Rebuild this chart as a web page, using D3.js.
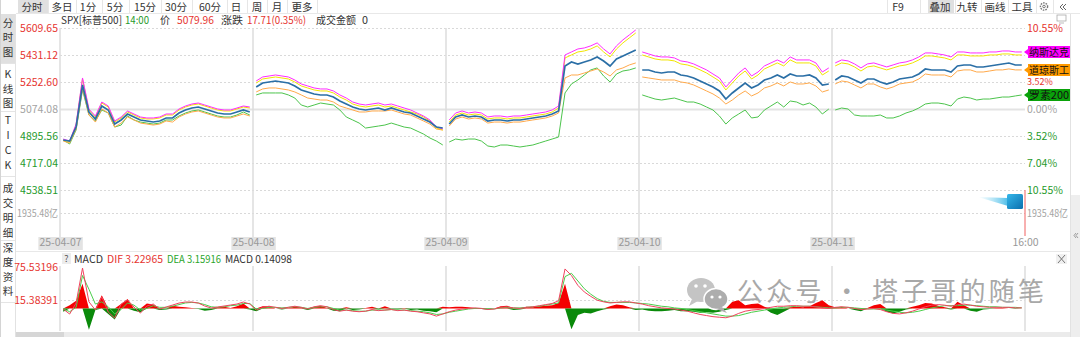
<!DOCTYPE html>
<html>
<head>
<meta charset="utf-8">
<title>SPX 分时叠加</title>
<script src="https://cdn.jsdelivr.net/npm/d3@7/dist/d3.min.js"></script>
<style>
    body { margin: 0; background: #fff; overflow: hidden; }
    svg text { font-family: "Noto Sans CJK SC", "Noto Sans", sans-serif; }
</style>
</head>
<body>
<div id="chart"></div>
<script>

// ---------------- data ----------------
var days = ["25-04-07", "25-04-08", "25-04-09", "25-04-10", "25-04-11"];
var closeTime = "16:00";
var perDay = 30;
var prevClose = 5074.08;

var priceTicks = [5609.65, 5431.12, 5252.60, 5074.08, 4895.56, 4717.04, 4538.51];
var pctTicks = [10.55, 7.04, 3.52, 0, -3.52, -7.04, -10.55];
var volTick = 1935.48;
var macdTicks = [75.53196, 15.38391];

// SPX 标普500 (price)
var spx = [
    4869.1,4862.5,4955.1,5232.8,5054.2,5008.0,5093.9,5067.5,4974.9,5001.4,5041.0,5021.2,5001.4,4994.7,4988.1,4994.7,5014.6,5014.6,5047.6,5067.5,5080.7,5087.3,5074.1,5060.9,5047.6,5041.0,5041.0,5054.2,5067.5,5054.2,
    5219.5,5246.0,5252.6,5259.2,5252.6,5246.0,5226.2,5199.7,5186.5,5173.3,5166.7,5166.7,5153.4,5127.0,5107.1,5087.3,5074.1,5067.5,5074.1,5080.7,5067.5,5080.7,5067.5,5054.2,5047.6,5027.8,5008.0,4988.1,4955.1,4948.5,
    4974.9,5021.2,5034.4,5021.2,5027.8,5021.2,4994.7,5001.4,5001.4,4994.7,5001.4,5001.4,5008.0,5014.6,5021.2,5027.8,5041.0,5060.9,5358.4,5384.8,5371.6,5384.8,5398.1,5417.9,5391.5,5358.4,5404.7,5424.5,5444.4,5464.2,
    5331.9,5331.9,5318.7,5312.1,5318.7,5318.7,5298.9,5292.3,5279.1,5259.2,5239.4,5219.5,5193.1,5140.2,5179.9,5213.0,5246.0,5213.0,5232.8,5265.8,5279.1,5298.9,5279.1,5305.5,5292.3,5292.3,5298.9,5279.1,5232.8,5239.4,
    5265.8,5292.3,5285.7,5265.8,5246.0,5272.4,5272.4,5252.6,5239.4,5252.6,5272.4,5279.1,5285.7,5305.5,5338.6,5331.9,5331.9,5331.9,5318.7,5358.4,5365.0,5365.0,5351.8,5351.8,5358.4,5365.0,5371.6,5378.2,5365.0,5365.0
];

// 叠加品种 (% vs 前收)
var nasdaqPct = [
    -3.91,-4.17,-1.96,4.04,0,-0.91,0.91,0.39,-1.56,-1.04,-0.26,-0.65,-1.04,-1.17,-1.17,-1.04,-0.65,-0.65,0,0.39,0.65,0.78,0.52,0.26,0,-0.13,-0.13,0.13,0.39,0.26,
    3.65,4.17,4.30,4.43,4.30,4.17,3.78,3.26,3.00,2.74,2.61,2.61,2.35,1.83,1.43,0.91,0.65,0.52,0.65,0.78,0.52,0.65,0.39,0.13,-0.13,-0.52,-0.91,-1.43,-2.35,-2.61,
    -1.43,-0.52,-0.26,-0.52,-0.39,-0.52,-1.04,-0.91,-0.91,-1.04,-0.91,-0.91,-0.78,-0.65,-0.52,-0.39,-0.13,0.39,7.04,7.43,7.82,7.95,8.22,8.61,7.82,7.17,8.22,9.00,9.65,10.30,
    7.43,7.17,6.91,6.78,6.78,6.65,6.26,6.13,5.87,5.48,5.09,4.56,4.04,2.87,3.78,4.69,5.35,4.30,4.82,5.61,6.00,6.39,6.00,6.78,6.39,6.39,6.39,6.00,4.82,5.35,
    6.00,6.39,6.26,5.87,5.35,5.87,6.00,5.74,5.48,5.74,6.00,6.13,6.39,6.78,7.30,7.30,7.17,7.04,6.78,7.43,7.43,7.30,7.30,7.30,7.43,7.43,7.56,7.56,7.43,7.43
];
var yellowPct = [
    -4.04,-4.30,-2.09,3.91,-0.13,-1.04,0.78,0.26,-1.70,-1.17,-0.39,-0.78,-1.17,-1.30,-1.30,-1.17,-0.78,-0.78,-0.13,0.26,0.52,0.65,0.39,0.13,-0.13,-0.26,-0.26,0,0.26,0.13,
    3.39,3.91,4.04,4.17,4.04,3.91,3.52,3.00,2.74,2.48,2.35,2.35,2.09,1.56,1.17,0.65,0.39,0.26,0.39,0.52,0.26,0.39,0.13,-0.13,-0.39,-0.65,-1.04,-1.56,-2.48,-2.74,
    -1.70,-0.78,-0.52,-0.78,-0.65,-0.78,-1.30,-1.17,-1.17,-1.30,-1.17,-1.17,-1.04,-0.91,-0.78,-0.65,-0.39,0.13,6.65,7.04,7.43,7.56,7.82,8.22,7.43,6.78,7.82,8.61,9.26,9.91,
    7.04,6.78,6.52,6.39,6.39,6.26,5.87,5.74,5.48,5.09,4.69,4.17,3.65,2.48,3.39,4.30,4.95,3.91,4.43,5.22,5.61,6.00,5.61,6.39,6.00,6.00,6.00,5.61,4.43,4.95,
    5.61,6.00,5.87,5.48,4.95,5.48,5.61,5.35,5.09,5.35,5.61,5.74,6.00,6.39,6.91,6.91,6.78,6.65,6.39,7.04,7.04,6.91,6.91,6.91,7.04,7.04,7.17,7.17,7.04,7.04
];
var dowPct = [
    -4.17,-4.43,-2.61,2.74,-0.78,-1.70,0,-0.52,-2.35,-1.83,-1.04,-1.43,-1.83,-1.96,-2.09,-1.96,-1.56,-1.70,-1.04,-0.65,-0.39,-0.26,-0.52,-0.78,-1.04,-1.17,-1.17,-0.91,-0.65,-0.91,
    2.22,2.61,2.74,2.74,2.61,2.48,2.22,1.83,1.43,1.30,1.17,1.17,0.91,0.39,0.13,-0.13,-0.39,-0.39,-0.26,-0.26,-0.26,-0.13,-0.39,-0.65,-0.78,-1.17,-1.56,-1.96,-2.61,-2.74,
    -2.22,-1.30,-1.04,-1.30,-1.17,-1.30,-1.83,-1.70,-1.70,-1.83,-1.70,-1.70,-1.56,-1.43,-1.30,-1.17,-0.91,-0.52,4.04,4.43,4.43,4.69,4.95,5.22,4.82,4.30,5.09,5.35,5.74,6.00,
    4.17,4.04,3.91,3.78,3.78,3.78,3.52,3.39,3.13,2.74,2.35,1.96,1.43,0.65,1.17,1.83,2.35,1.70,2.09,2.74,3.00,3.39,3.00,3.52,3.26,3.26,3.39,3.00,2.22,2.48,
    3.26,3.65,3.52,3.13,2.74,3.26,3.26,2.87,2.61,2.87,3.26,3.39,3.52,3.91,4.56,4.43,4.43,4.43,4.17,4.95,5.09,5.09,4.82,4.82,4.95,5.09,5.09,5.22,5.09,5.09
];
var russellPct = [
    -4.04,-4.56,-2.74,2.48,-0.78,-1.56,-0.13,-0.52,-2.35,-2.09,-0.91,-1.43,-1.70,-1.83,-1.96,-1.83,-1.43,-1.43,-0.91,-0.52,-0.26,-0.13,-0.39,-0.65,-0.91,-1.04,-1.04,-0.78,-0.39,-0.78,
    1.83,2.09,2.09,2.09,2.09,1.83,1.43,0.52,0.26,0.52,0.78,0.65,0.52,-0.13,-1.04,-1.43,-1.83,-2.48,-2.35,-2.22,-2.09,-1.83,-2.09,-2.35,-2.48,-2.87,-3.26,-3.78,-4.17,-4.69,
    -4.30,-3.91,-4.04,-3.91,-3.91,-4.17,-4.82,-4.95,-4.69,-4.69,-4.82,-4.95,-4.82,-4.69,-4.43,-4.17,-3.91,-3.65,2.09,3.26,3.78,4.43,5.09,5.35,4.30,3.52,4.56,4.95,5.09,5.35,
    1.83,1.56,1.30,1.17,1.30,1.43,1.17,0.91,0.91,0.65,0.26,-0.13,-0.91,-1.96,-1.17,-0.65,-0.13,-1.17,-1.04,-0.13,0.39,0.91,0.26,1.04,0.91,0.52,0.78,0.26,-0.65,0,
    -0.13,0.13,0,-0.78,-0.91,-0.91,-0.91,-0.78,-1.17,-1.17,-0.91,-0.52,-0.26,0.13,0.65,0.78,0.78,0.65,0.39,1.30,1.56,1.43,1.17,1.30,1.30,1.43,1.56,1.56,1.70,1.83
];

// MACD
var dif = [
    -1.1,-10.2,9.8,73.6,12,-2.9,20.8,-6.6,-17.5,8.0,15.3,2.6,-8.4,4.4,8.0,-1.1,2.6,6.2,9.8,11.7,11.7,9.8,4.4,0.7,2.6,4.4,6.2,8.0,11.7,8.0,
    -3,2,4,2,0,2,4,2,-1,3,5,3,-2,-5,-3,-5,-6,-5,-2,-4,-3,-2,-4,-3,-5,-6,-8,-10,-14,-10,
    -6,-3,-1,0,1,0,-2,-1,2,3,1,0,2,3,5,7,9,14,72,60,42,30,22,15,12,10,11,12,12,10,
    8,5,3,1,0,-1,-3,-5,-8,-11,-13,-15,-16,-17,-14,-9,-5,-3,-2,0,2,4,4,5,5,4,4,3,1,0,
    2,3,2,0,-2,-1,0,-2,-6,-9,-10,-8,-5,-1,3,6,7,6,4,7,8,6,4,3,2,2,2,2,1,1
];
var dea = [
    -0.5,-6,2,60,35,8,12,3,-10,-2,10,6,-3,0,5,2,2,4,7,10,11,10,7,3,2,3,5,6,9,9,
    -1,0,2,2,1,2,3,2,0,2,3,3,0,-3,-3,-4,-5,-5,-3,-3,-3,-2,-3,-3,-4,-5,-6,-8,-11,-10,
    -7,-5,-3,-1,0,0,-1,-1,1,2,1,1,2,3,4,6,8,10,58,64,50,36,26,18,13,11,11,11,11,10,
    9,8,6,4,3,1,0,-2,-4,-6,-8,-10,-12,-14,-14,-13,-10,-7,-5,-3,-1,1,2,3,4,4,4,3,2,1,
    1,2,2,1,0,-1,-1,-1,-3,-5,-7,-8,-7,-5,-2,1,3,5,5,5,6,6,5,4,3,3,2,2,2,1
];
var macdHist = [
    -6,6,14,45,-39,-3,24,-10,-20,8,17,-4,-7,9,7,-3,-2,5,3,2,1,-1,-4,-3,2,3,1,4,9,-2,
    -5,4,4,0,-2,1,3,2,-3,3,5,1,-4,-5,2,-3,-2,1,3,-2,4,-1,-2,1,-3,-2,-4,-5,-7,3,
    2,3,3,2,1,-1,-2,0,4,5,-3,-2,3,2,4,5,6,10,45,-38,-12,-8,-9,-5,-2,4,7,6,2,-3,
    -2,-4,-5,-5,-4,-3,-5,-5,-6,-8,-7,-8,-6,-3,12,15,6,8,9,3,-8,-12,-6,2,3,2,4,10,15,6,
    2,3,0,-3,-5,1,6,8,-6,-9,-6,-2,3,6,10,9,5,2,-2,12,6,-4,-6,-2,-1,1,1,0,-1,0
];

// 当前光标处读数
var cursorTime = "14:00", cursorPrice = 5079.96, cursorChg = 17.71, cursorChgPct = 0.35, cursorAmount = 0;
var lastDif = 3.22965, lastDea = 3.15916, lastMacd = 0.14098;

var upColor = "#e6342f", downColor = "#1f9a2c", flatColor = "#a3a3a3", textColor = "#333";
var fs = 10.5;

// ---------------- layout ----------------
var svg = d3.select("#chart").append("svg")
    .attr("width", 1080)
    .attr("height", 337);

var x = d3.scaleLinear().domain([0, days.length]).range([60, 1025]);
var yPrice = d3.scaleLinear().domain([4538.51, 5609.65]).range([190, 28]);
var yPct = d3.scaleLinear().domain([-10.55, 10.55]).range([190, 28]);
var yVol = d3.scaleLinear().domain([0, 3870.96]).range([236, 190]);
var yMacd = d3.scaleLinear().domain([15.38391, 75.53196]).range([300, 267]);

function xAt(i) {
    var d = Math.floor(i / perDay);
    return x(d + (i % perDay + 0.5) / perDay);
}
function signColor(v, base) {
    return v > base ? upColor : (v < base ? downColor : flatColor);
}

// ---- top toolbar ----
var tabs = ["分时", "多日", "1分", "5分", "15分", "30分", "60分", "日", "周", "月", "更多"];
var tabX = [32, 62, 88, 115, 145, 176, 210, 236, 257, 277, 302];
var tabSep = [48, 76, 102, 129, 161, 192, 227, 247, 267, 287, 317];
var tools = ["F9", "叠加", "九转", "画线", "工具"];
var toolX = [898, 940, 967, 995, 1022];
var toolSep = [887, 920, 955, 981, 1008, 1036, 1053];

svg.append("rect").attr("x", 18).attr("y", 0).attr("width", 30).attr("height", 13).attr("fill", "#e0e0e0");
svg.append("rect").attr("x", 928).attr("y", 0).attr("width", 26).attr("height", 13).attr("fill", "#e0e0e0");
svg.selectAll("line.tabsep")
    .data(tabSep.concat(toolSep))
    .enter().append("line")
    .attr("class", "tabsep")
    .attr("x1", function(d) { return d + 0.5; }).attr("x2", function(d) { return d + 0.5; })
    .attr("y1", 0).attr("y2", 13)
    .attr("stroke", "#e6e6e6");
svg.selectAll("text.tab")
    .data(tabs.map(function(t, i) { return {t: t, x: tabX[i]}; }).concat(tools.map(function(t, i) { return {t: t, x: toolX[i]}; })))
    .enter().append("text")
    .attr("class", "tab")
    .attr("x", function(d) { return d.x; })
    .attr("y", 11)
    .attr("text-anchor", "middle")
    .attr("font-size", fs)
    .attr("fill", textColor)
    .text(function(d) { return d.t; });
// gear + collapse
svg.append("circle").attr("cx", 1044).attr("cy", 6.5).attr("r", 3.6).attr("fill", "none").attr("stroke", "#777").attr("stroke-width", 1.4).attr("stroke-dasharray", "1.6,1");
svg.append("circle").attr("cx", 1044).attr("cy", 6.5).attr("r", 1.3).attr("fill", "none").attr("stroke", "#777");
svg.append("path").attr("d", "M1063,4 L1060,7 L1063,10 M1066,4 L1063,7 L1066,10").attr("fill", "none").attr("stroke", "#666");
svg.append("line").attr("x1", 16).attr("x2", 1080).attr("y1", 13.5).attr("y2", 13.5).attr("stroke", "#e8e8e8");

// ---- left sidebar ----
var sideGroups = [
    {chars: ["分", "时", "图"], ys: [23, 37, 52]},
    {chars: ["K", "线", "图"], ys: [74, 89, 103]},
    {chars: ["T", "I", "C", "K"], ys: [120, 135, 150, 165]},
    {chars: ["成", "交", "明", "细"], ys: [188, 203, 218, 233]},
    {chars: ["深", "度", "资", "料"], ys: [248, 262, 277, 291]}
];
var sideSep = [63, 111, 176, 240, 302];
svg.append("rect").attr("x", 0).attr("y", 14).attr("width", 15).attr("height", 49).attr("fill", "#e0e0e0");
svg.append("line").attr("x1", 0.5).attr("x2", 0.5).attr("y1", 0).attr("y2", 337).attr("stroke", "#d4d4d4");
svg.append("line").attr("x1", 15.5).attr("x2", 15.5).attr("y1", 14).attr("y2", 337).attr("stroke", "#e2e2e2");
svg.selectAll("line.sidesep")
    .data(sideSep)
    .enter().append("line")
    .attr("class", "sidesep")
    .attr("x1", 1).attr("x2", 15)
    .attr("y1", function(d) { return d + 0.5; }).attr("y2", function(d) { return d + 0.5; })
    .attr("stroke", "#e4e4e4");
sideGroups.forEach(function(g) {
    g.chars.forEach(function(c, k) {
        svg.append("text")
            .attr("x", 8)
            .attr("y", g.ys[k] + 4)
            .attr("text-anchor", "middle")
            .attr("font-size", fs)
            .attr("fill", textColor)
            .text(c);
    });
});

// ---- info line ----
var info = [
    {t: "SPX[标普500]", x: 61, w: 61, c: textColor},
    {t: cursorTime, x: 125, w: 24, c: downColor},
    {t: "价", x: 160, w: 10, c: textColor},
    {t: cursorPrice.toFixed(2), x: 177, w: 37, c: upColor},
    {t: "涨跌", x: 221, w: 22, c: textColor},
    {t: cursorChg.toFixed(2) + "(" + cursorChgPct.toFixed(2) + "%)", x: 247, w: 59, c: upColor},
    {t: "成交金额", x: 316, w: 40, c: textColor},
    {t: String(cursorAmount), x: 362, w: 6, c: textColor}
];
svg.selectAll("text.info")
    .data(info)
    .enter().append("text")
    .attr("class", "info")
    .attr("x", function(d) { return d.x; })
    .attr("y", 24)
    .attr("font-size", fs)
    .attr("textLength", function(d) { return d.w; })
    .attr("lengthAdjust", "spacingAndGlyphs")
    .attr("fill", function(d) { return d.c; })
    .text(function(d) { return d.t; });

// ---- grid ----
var grid = svg.append("g")
    .attr("transform", "translate(60,0)")
    .call(d3.axisLeft(yPrice).tickValues(priceTicks).tickSize(-965).tickFormat(""));
grid.select(".domain").remove();
grid.selectAll("line")
    .attr("stroke", function(d) { return d === prevClose ? "#e3e3e3" : "#d9d9d9"; })
    .attr("stroke-width", function(d) { return d === prevClose ? 2 : 1; })
    .attr("stroke-dasharray", function(d) { return d === prevClose ? null : "2,2"; });

var volGrid = svg.append("g")
    .attr("transform", "translate(60,0)")
    .call(d3.axisLeft(yVol).tickValues([volTick]).tickSize(-965).tickFormat(""));
volGrid.select(".domain").remove();
volGrid.selectAll("line").attr("stroke", "#d9d9d9").attr("stroke-dasharray", "2,2");

// day separators
svg.selectAll("line.daysep")
    .data(d3.range(days.length))
    .enter().append("line")
    .attr("class", "daysep")
    .attr("x1", function(d) { return x(d); }).attr("x2", function(d) { return x(d); })
    .attr("y1", 28).attr("y2", 237)
    .attr("stroke", "#dcdcdc").attr("stroke-width", 1.5);

// ---- left / right labels ----
var leftAxis = svg.append("g")
    .attr("transform", "translate(58,0)")
    .call(d3.axisLeft(yPrice).tickValues(priceTicks).tickSize(0).tickPadding(0).tickFormat(d3.format(".2f")));
leftAxis.select(".domain").remove();
leftAxis.attr("font-size", fs);
leftAxis.selectAll("text").attr("fill", function(d) { return signColor(d, prevClose); });

var rightAxis = svg.append("g")
    .attr("transform", "translate(1027,0)")
    .call(d3.axisRight(yPct).tickValues(pctTicks).tickSize(0).tickPadding(0)
        .tickFormat(function(d) { return Math.abs(d).toFixed(2) + "%"; }));
rightAxis.select(".domain").remove();
rightAxis.attr("font-size", fs);
rightAxis.selectAll("text").attr("fill", function(d) { return signColor(d, 0); });

var volLeft = svg.append("g")
    .attr("transform", "translate(58,0)")
    .call(d3.axisLeft(yVol).tickValues([volTick]).tickSize(0).tickPadding(0)
        .tickFormat(function(d) { return d.toFixed(2) + "亿"; }));
volLeft.select(".domain").remove();
volLeft.attr("font-size", fs);
volLeft.selectAll("text").attr("fill", flatColor).attr("textLength", 41).attr("lengthAdjust", "spacingAndGlyphs");
var volRight = svg.append("g")
    .attr("transform", "translate(1027,0)")
    .call(d3.axisRight(yVol).tickValues([volTick]).tickSize(0).tickPadding(0)
        .tickFormat(function(d) { return d.toFixed(2) + "亿"; }));
volRight.select(".domain").remove();
volRight.attr("font-size", fs);
volRight.selectAll("text").attr("fill", flatColor).attr("textLength", 41).attr("lengthAdjust", "spacingAndGlyphs");

// ---- date axis ----
var dateAxis = svg.append("g")
    .attr("transform", "translate(0,236)")
    .call(d3.axisBottom(x).tickValues(d3.range(days.length + 1)).tickSize(0).tickPadding(3)
        .tickFormat(function(i) { return i < days.length ? days[i] : closeTime; }));
dateAxis.select(".domain").remove();
dateAxis.attr("font-size", 10.5);
dateAxis.selectAll("text").attr("fill", "#999");
dateAxis.selectAll(".tick").each(function(d) {
    if (d >= days.length) return;
    var b = d3.select(this).select("text").node().getBBox();
    d3.select(this).insert("rect", "text")
        .attr("x", b.x - 1).attr("y", 1)
        .attr("width", b.width + 2).attr("height", 13)
        .attr("fill", "#e3e3e3");
});

// volume cursor line + floating icon
svg.append("line")
    .attr("x1", x(days.length)).attr("x2", x(days.length))
    .attr("y1", 190).attr("y2", 236)
    .attr("stroke", "#f06060");

var defs = svg.append("defs");
var tail = defs.append("linearGradient").attr("id", "tail");
tail.append("stop").attr("offset", "0%").attr("stop-color", "#7fd6f2").attr("stop-opacity", 0);
tail.append("stop").attr("offset", "100%").attr("stop-color", "#3bb6e6").attr("stop-opacity", 0.9);
var cube = defs.append("linearGradient").attr("id", "cube").attr("x1", 0).attr("y1", 0).attr("x2", 1).attr("y2", 1);
cube.append("stop").attr("offset", "0%").attr("stop-color", "#35b7ea");
cube.append("stop").attr("offset", "100%").attr("stop-color", "#0b6fae");
svg.append("path").attr("d", "M978,197 L1008,198 L1008,206 Z").attr("fill", "url(#tail)");
svg.append("rect").attr("x", 1007).attr("y", 194).attr("width", 16).attr("height", 15).attr("rx", 1.5).attr("fill", "url(#cube)");

// ---- price lines ----
function daySegments(values) {
    return days.map(function(d, k) {
        return values.slice(k * perDay, (k + 1) * perDay).map(function(v, j) {
            return {i: k * perDay + j, v: v};
        });
    });
}

var pctLine = d3.line()
    .x(function(d) { return xAt(d.i); })
    .y(function(d) { return yPct(d.v); });
var priceLine = d3.line()
    .x(function(d) { return xAt(d.i); })
    .y(function(d) { return yPrice(d.v); });

var overlays = [
    {name: "罗素200", values: russellPct, color: "#4cc44c", tag: "#0aa20a"},
    {name: "道琼斯工", values: dowPct, color: "#ffa94a", tag: "#ff9a00"},
    {name: null, values: yellowPct, color: "#f2e400"},
    {name: "纳斯达克", values: nasdaqPct, color: "#ff2cff", tag: "#ff00ff"}
];

overlays.forEach(function(s) {
    svg.append("g").selectAll("path")
        .data(daySegments(s.values))
        .enter().append("path")
        .attr("fill", "none")
        .attr("stroke", s.color)
        .attr("stroke-width", 1)
        .attr("d", pctLine);
});

svg.append("g").selectAll("path")
    .data(daySegments(spx))
    .enter().append("path")
    .attr("fill", "none")
    .attr("stroke", "#2b6fa6")
    .attr("stroke-width", 1.7)
    .attr("d", priceLine);

// overlay tags on the right (they cover the pct label underneath, as in the terminal)
var tagYs = [];
overlays.filter(function(s) { return s.name; }).forEach(function(s) {
    var ty = Math.round(yPct(s.values[s.values.length - 1]));
    tagYs.push(ty);
    var g = svg.append("g");
    g.append("path")
        .attr("d", "M1024," + ty + " L1028," + (ty - 3) + " L1028," + (ty + 3) + " Z")
        .attr("fill", s.tag);
    g.append("rect")
        .attr("x", 1028).attr("y", ty - 6)
        .attr("width", 42).attr("height", 12)
        .attr("fill", s.tag);
    g.append("text")
        .attr("x", 1029).attr("y", ty + 3.5)
        .attr("font-size", 10)
        .attr("textLength", 40)
        .attr("lengthAdjust", "spacingAndGlyphs")
        .attr("fill", "#111")
        .text(s.name);
});
rightAxis.selectAll(".tick").filter(function(d) {
    var yy = yPct(d);
    return tagYs.some(function(t) { return Math.abs(t - yy) < 7; });
}).remove();
// a label squeezed between two tags gets a slightly smaller font
rightAxis.selectAll(".tick").filter(function(d) {
    var yy = yPct(d);
    return tagYs.some(function(t) { return Math.abs(t - yy) < 14; });
}).select("text").attr("font-size", 9);

// ---- MACD pane ----
svg.append("line").attr("x1", 16).attr("x2", 1070).attr("y1", 251.5).attr("y2", 251.5).attr("stroke", "#e8e8e8");

var macdGrid = svg.append("g")
    .attr("transform", "translate(60,0)")
    .call(d3.axisLeft(yMacd).tickValues([macdTicks[1]]).tickSize(-965).tickFormat(""));
macdGrid.select(".domain").remove();
macdGrid.selectAll("line").attr("stroke", "#d9d9d9").attr("stroke-dasharray", "2,2");

svg.selectAll("line.macdsep")
    .data(d3.range(days.length + 1))
    .enter().append("line")
    .attr("class", "macdsep")
    .attr("x1", function(d) { return x(d); }).attr("x2", function(d) { return x(d); })
    .attr("y1", 266).attr("y2", 331)
    .attr("stroke", "#dcdcdc").attr("stroke-width", 1.5);

var macdAxis = svg.append("g")
    .attr("transform", "translate(58,0)")
    .call(d3.axisLeft(yMacd).tickValues(macdTicks).tickSize(0).tickPadding(0).tickFormat(d3.format(".5f")));
macdAxis.select(".domain").remove();
macdAxis.attr("font-size", fs);
macdAxis.selectAll("text").attr("fill", upColor);

var histData = macdHist.map(function(v, i) { return {i: i, v: v}; });
var histUp = d3.area()
    .x(function(d) { return xAt(d.i); })
    .y0(yMacd(0))
    .y1(function(d) { return yMacd(Math.max(d.v, 0)); });
var histDown = d3.area()
    .x(function(d) { return xAt(d.i); })
    .y0(yMacd(0))
    .y1(function(d) { return yMacd(Math.min(d.v, 0)); });

svg.append("path").datum(histData).attr("d", histUp).attr("fill", "#f40000");
svg.append("path").datum(histData).attr("d", histDown).attr("fill", "#0a8a0a");

var macdLine = d3.line()
    .x(function(d) { return xAt(d.i); })
    .y(function(d) { return yMacd(d.v); });

svg.append("path")
    .datum(dea.map(function(v, i) { return {i: i, v: v}; }))
    .attr("fill", "none").attr("stroke", "#4ccf4c").attr("stroke-width", 1)
    .attr("d", macdLine);
svg.append("path")
    .datum(dif.map(function(v, i) { return {i: i, v: v}; }))
    .attr("fill", "none").attr("stroke", "#f0445e").attr("stroke-width", 1)
    .attr("d", macdLine);

// MACD header
svg.append("rect").attr("x", 62).attr("y", 253).attr("width", 9).attr("height", 11).attr("fill", "#ececec");
svg.append("text").attr("x", 66.5).attr("y", 262).attr("text-anchor", "middle").attr("font-size", 9).attr("fill", "#555").text("?");
var macdInfo = [
    {t: "MACD", x: 74, w: 29, c: textColor},
    {t: "DIF " + lastDif.toFixed(5), x: 107, w: 56, c: upColor},
    {t: "DEA " + lastDea.toFixed(5), x: 167, w: 54, c: "#2aa52a"},
    {t: "MACD " + lastMacd.toFixed(5), x: 225, w: 67, c: textColor}
];
svg.selectAll("text.macdinfo")
    .data(macdInfo)
    .enter().append("text")
    .attr("class", "macdinfo")
    .attr("x", function(d) { return d.x; })
    .attr("y", 263)
    .attr("font-size", fs)
    .attr("textLength", function(d) { return d.w; })
    .attr("lengthAdjust", "spacingAndGlyphs")
    .attr("fill", function(d) { return d.c; })
    .text(function(d) { return d.t; });

// close button
svg.append("rect").attr("x", 1056).attr("y", 254).attr("width", 11).attr("height", 10).attr("fill", "#f0f0f0");
svg.append("path").attr("d", "M1058,255 L1065,263 M1065,255 L1058,263").attr("stroke", "#777").attr("stroke-width", 1);

// watermark
var wm = svg.append("g");
wm.append("ellipse").attr("cx", 701).attr("cy", 290).attr("rx", 14).attr("ry", 12).attr("fill", "#c4c4c4");
wm.append("path").attr("d", "M692,299 L689,306 L698,301 Z").attr("fill", "#c4c4c4");
wm.append("ellipse").attr("cx", 716).attr("cy", 299).attr("rx", 12).attr("ry", 10.5).attr("fill", "#adadad").attr("stroke", "#fff").attr("stroke-width", 1.5);
wm.append("path").attr("d", "M722,307 L727,313 L716,309 Z").attr("fill", "#adadad");
wm.append("circle").attr("cx", 696).attr("cy", 286).attr("r", 1.8).attr("fill", "#fff");
wm.append("circle").attr("cx", 705).attr("cy", 286).attr("r", 1.8).attr("fill", "#fff");
wm.append("circle").attr("cx", 712).attr("cy", 297).attr("r", 1.6).attr("fill", "#fff");
wm.append("circle").attr("cx", 720).attr("cy", 297).attr("r", 1.6).attr("fill", "#fff");
wm.append("text")
    .attr("x", 737).attr("y", 301)
    .attr("font-size", 26)
    .attr("fill", "#a8a8a8")
    .attr("textLength", 307)
    .attr("lengthAdjust", "spacing")
    .text("公众号 · 塔子哥的随笔");

// ---- right strip + bottom scrollbar ----
svg.append("line").attr("x1", 1070.5).attr("x2", 1070.5).attr("y1", 14).attr("y2", 337).attr("stroke", "#e2e2e2");
svg.append("rect").attr("x", 1071).attr("y", 195).attr("width", 9).attr("height", 142).attr("fill", "#eeeeee");
svg.append("path").attr("d", "M1076,233 L1074,235.5 L1076,238 M1078,233 L1076,235.5 L1078,238").attr("fill", "none").attr("stroke", "#888").attr("stroke-width", 0.8);
// small screen icon in the corner
svg.append("rect").attr("x", 1057).attr("y", 15).attr("width", 9).attr("height", 6).attr("fill", "none").attr("stroke", "#aaa").attr("stroke-width", 0.8);
svg.append("line").attr("x1", 1059).attr("x2", 1064).attr("y1", 23).attr("y2", 23).attr("stroke", "#aaa").attr("stroke-width", 0.8);

svg.append("rect").attr("x", 16).attr("y", 332).attr("width", 1054).attr("height", 5).attr("fill", "#ebebeb");
svg.append("rect").attr("x", 16).attr("y", 332).attr("width", 48).attr("height", 5).attr("fill", "#d6d6d6");

</script>
</body>
</html>
